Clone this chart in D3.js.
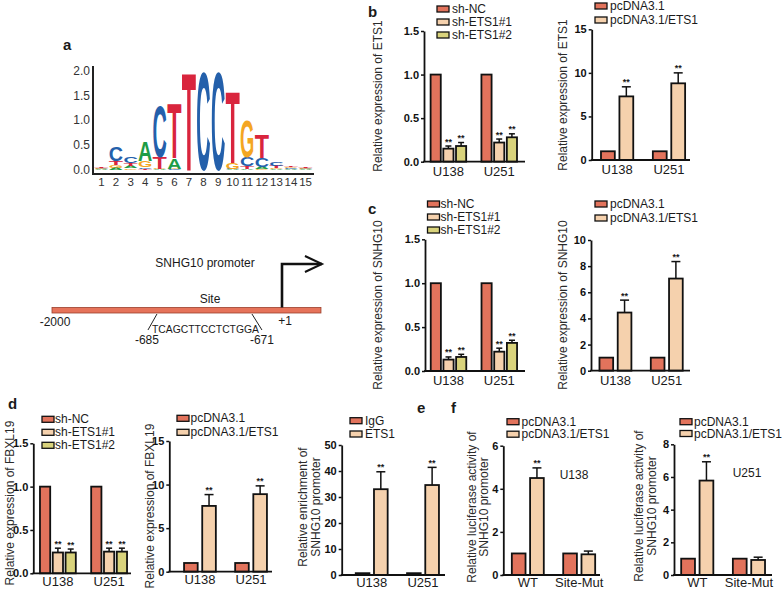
<!DOCTYPE html>
<html><head><meta charset="utf-8">
<script src="https://cdn.jsdelivr.net/npm/d3@7"></script>
<style>
body{margin:0;background:#fff}
svg{display:block}
text{font-family:"Liberation Sans",Arial,sans-serif;fill:#1a1a1a}
</style>
</head><body>
<svg id="fig" width="784" height="590"></svg>
<script>
// ---------------- DATA ----------------
// Panel a: sequence logo (bits per base at positions 1..15)
const logoPositions = [1,2,3,4,5,6,7,8,9,10,11,12,13,14,15];
const logoA = [0.01,0.04,0.04,0.40,0.01,0.21,0,0,0,0.01,0.02,0.04,0.02,0.01,0.01];
const logoC = [0.01,0.28,0.14,0.03,1.05,0.01,0,2.0,2.0,0.01,0.18,0.18,0.07,0.02,0.01];
const logoG = [0.01,0.05,0.03,0.13,0.01,0.01,0,0,0,0.12,0.75,0.02,0.02,0.02,0.01];
const logoT = [0.01,0.08,0.06,0.02,0.24,1.13,2.0,0,0,1.48,0.05,0.47,0.04,0.02,0.01];
const logoYTicks = [0,0.5,1,1.5,2];
const siteSequence = "TCAGCTTCCTCTGGA";

// Categories and series
const cellLines = ["U138","U251"];
const lucGroups = ["WT","Site-Mut"];
const shSeries = ["sh-NC","sh-ETS1#1","sh-ETS1#2"];
const oeSeries = ["pcDNA3.1","pcDNA3.1/ETS1"];
const chipSeries = ["IgG","ETS1"];

// b: ETS1 expression
const ets1ShMean = [[1,1],[0.15,0.22],[0.18,0.28]];
const ets1ShErr  = [[0,0],[0.03,0.04],[0.04,0.04]];
const ets1ShSig  = [["",""],["**","**"],["**","**"]];
const ets1OeMean = [[1,1],[7.3,8.8]];
const ets1OeErr  = [[0,0],[1.1,1.2]];
const ets1OeSig  = [["",""],["**","**"]];
// c: SNHG10 expression
const snhgShMean = [[1,1],[0.13,0.22],[0.16,0.32]];
const snhgShErr  = [[0,0],[0.03,0.04],[0.03,0.03]];
const snhgShSig  = [["",""],["**","**"],["**","**"]];
const snhgOeMean = [[1,1],[4.45,7.05]];
const snhgOeErr  = [[0,0],[0.95,1.3]];
const snhgOeSig  = [["",""],["**","**"]];
// d: FBXL19 expression
const fbxShMean = [[1,1],[0.24,0.25],[0.24,0.25]];
const fbxShErr  = [[0,0],[0.05,0.04],[0.04,0.04]];
const fbxShSig  = [["",""],["**","**"],["**","**"]];
const fbxOeMean = [[1,1],[7.55,8.9]];
const fbxOeErr  = [[0,0],[1.3,0.95]];
const fbxOeSig  = [["",""],["**","**"]];
// e: ChIP enrichment
const chipMean = [[0.7,0.7],[33,34.6]];
const chipErr  = [[0,0],[6.7,6.8]];
const chipSig  = [["",""],["**","**"]];
// f: luciferase
const lucU138Mean = [[1,1],[4.5,0.96]];
const lucU138Err  = [[0,0],[0.47,0.15]];
const lucU138Sig  = [["",""],["**",""]];
const lucU251Mean = [[1,1],[5.78,0.92]];
const lucU251Err  = [[0,0],[1.15,0.17]];
const lucU251Sig  = [["",""],["**",""]];

// tick values
const ticksRel = [0,0.5,1,1.5];
const ticks15 = [0,5,10,15];
const ticks10 = [0,2,4,6,8,10];
const ticks50 = [0,10,20,30,40,50];
const ticks6 = [0,2,4,6];
const ticks8 = [0,2,4,6,8];

// ---------------- STYLE ----------------
const RED = "#e2735c", PEACH = "#f5d1ad", OLIVE = "#d9d37c";
const baseColors = {A:"#1e9c45", C:"#2460ab", G:"#f4a622", T:"#d9253d"};
const shColors = [RED, PEACH, OLIVE];
const twoColors = [RED, PEACH];

const svg = d3.select("#fig");

// ---------------- PANEL LETTERS ----------------
const letters = [["a",63,50],["b",368,17],["c",368,214],["d",8,409],["e",417,413],["f",451,413]];
letters.forEach(([t,x,y]) => svg.append("text").attr("x",x).attr("y",y).attr("font-size",15)
  .attr("font-weight","bold").text(t));

// ---------------- PANEL a: LOGO ----------------
(function(){
  const g = svg.append("g");
  const lx = d3.scaleBand().domain(logoPositions).range([94,313]).padding(0.02);
  const ly = d3.scaleLinear().domain([0,2]).range([169.5,70.5]);
  const CAP = 71.6, ADV = 70;
  logoPositions.forEach((p,i) => {
    const stack = [["A",logoA[i]],["C",logoC[i]],["G",logoG[i]],["T",logoT[i]]]
      .filter(d => d[1] > 0).sort((a,b) => a[1]-b[1]);
    let cum = 0;
    stack.forEach(([b,h]) => {
      const yb = ly(cum), yt = ly(cum+h); cum += h;
      const w = lx.bandwidth();
      g.append("text").text(b)
        .attr("x",0).attr("y",0)
        .attr("font-size",100).attr("font-weight","bold")
        .attr("textLength",ADV).attr("lengthAdjust","spacingAndGlyphs")
        .style("fill",baseColors[b])
        .attr("transform",`translate(${lx(p)},${yb}) scale(${w/ADV},${(yb-yt)/CAP})`);
    });
  });
  const yAx = g.append("g").attr("transform","translate(93,0)")
    .call(d3.axisLeft(ly).tickValues(logoYTicks).tickFormat(d3.format(".1f")).tickSize(0).tickPadding(3));
  yAx.select(".domain").remove();
  yAx.selectAll("text").attr("font-size",12).style("fill","#333").attr("font-family","Liberation Sans, Arial");
  g.append("line").attr("x1",93).attr("x2",93).attr("y1",66).attr("y2",174).attr("stroke","#222").attr("stroke-width",2);
  g.append("line").attr("x1",92).attr("x2",314).attr("y1",174).attr("y2",174).attr("stroke","#222").attr("stroke-width",2);
  const xAx = g.append("g").attr("transform","translate(0,174)")
    .call(d3.axisBottom(lx).tickSize(0).tickPadding(4));
  xAx.select(".domain").remove();
  xAx.selectAll("text").attr("font-size",11.5).style("fill","#333").attr("font-family","Liberation Sans, Arial");
})();

// ---------------- PANEL a: PROMOTER ----------------
(function(){
  const g = svg.append("g");
  const gx = d3.scaleLinear().domain([-2000,1]).range([52,282]);
  const rightEnd = 340;
  g.append("rect").attr("x",gx(-2000)).attr("y",307.5).attr("width",gx(rightEnd)-gx(-2000)).attr("height",5.5)
    .attr("fill","#e6735a").attr("stroke","#9b3f2b").attr("stroke-width",0.8);
  g.append("path").attr("d",`M${gx(1)},307.5 V264 H${gx(rightEnd)+1}`).attr("fill","none").attr("stroke","#111").attr("stroke-width",2.6);
  g.append("path").attr("d",`M${gx(rightEnd)-16},256 L${gx(rightEnd)+1},264 L${gx(rightEnd)-16},272`).attr("fill","none").attr("stroke","#111").attr("stroke-width",2);
  const fs = 12;
  g.append("text").attr("x",205).attr("y",267).attr("text-anchor","middle").attr("font-size",fs).text("SNHG10 promoter");
  g.append("text").attr("x",210).attr("y",303).attr("text-anchor","middle").attr("font-size",fs).text("Site");
  g.append("text").attr("x",gx(-2000)+3).attr("y",325.5).attr("text-anchor","middle").attr("font-size",fs).text("-2000");
  g.append("text").attr("x",gx(1)+3).attr("y",325).attr("text-anchor","middle").attr("font-size",fs).text("+1");
  const sc = gx(-678);
  g.append("line").attr("x1",sc-47).attr("y1",314).attr("x2",sc-56).attr("y2",330).attr("stroke","#222").attr("stroke-width",1);
  g.append("line").attr("x1",sc+48).attr("y1",314).attr("x2",sc+58).attr("y2",330).attr("stroke","#222").attr("stroke-width",1);
  g.append("text").attr("x",sc-52).attr("y",333).attr("font-size",10.5).attr("textLength",107).attr("lengthAdjust","spacingAndGlyphs").text(siteSequence);
  g.append("text").attr("x",sc-57).attr("y",343.5).attr("text-anchor","middle").attr("font-size",fs).text("-685");
  g.append("text").attr("x",sc+58).attr("y",343.5).attr("text-anchor","middle").attr("font-size",fs).text("-671");
})();

// ---------------- BAR PANELS ----------------
function barPanel(c){
  const g = svg.append("g");
  const n = c.series.length;
  const x = d3.scaleBand().domain(c.groups).range([c.x0,c.x1]).paddingInner(0.2).paddingOuter(c.q);
  const ip = n === 3 ? 0.2 : 0.25;
  const xi = d3.scaleBand().domain(c.series).range([0,x.bandwidth()]).paddingInner(ip).paddingOuter(ip);
  const y = d3.scaleLinear().domain([0,c.ticks[c.ticks.length-1]]).range([c.y0,c.y1]);
  const capW = n === 3 ? 6 : 9;
  c.series.forEach((s,si) => {
    c.groups.forEach((grp,gi) => {
      const v = c.means[si][gi], e = c.errs[si][gi];
      const bx = x(grp) + xi(s), bw = xi.bandwidth(), cx = bx + bw/2;
      if (e > 0) {
        g.append("line").attr("x1",cx).attr("x2",cx).attr("y1",y(v)).attr("y2",y(v+e)).attr("stroke","#111").attr("stroke-width",1.5);
        g.append("line").attr("x1",cx-capW/2).attr("x2",cx+capW/2).attr("y1",y(v+e)).attr("y2",y(v+e)).attr("stroke","#111").attr("stroke-width",1.5);
      }
      g.append("rect").attr("x",bx).attr("y",y(v)).attr("width",bw).attr("height",c.y0-y(v))
        .attr("fill",c.colors[si]).attr("stroke","#111").attr("stroke-width",1.8);
      const sg = c.sig[si][gi];
      if (sg) g.append("text").attr("x",cx).attr("y",y(v+e)-1.5).attr("text-anchor","middle")
        .attr("font-size",9).attr("font-weight","bold").text(sg);
    });
  });
  const ya = g.append("g").attr("transform",`translate(${c.x0},0)`)
    .call(d3.axisLeft(y).tickValues(c.ticks).tickFormat(d3.format(c.fmt)).tickSize(3).tickSizeOuter(0).tickPadding(2));
  ya.select(".domain").attr("stroke","#111").attr("stroke-width",1.8);
  ya.selectAll(".tick line").attr("stroke","#111").attr("stroke-width",1.5);
  ya.selectAll("text").attr("font-size",11).attr("font-weight","bold").attr("font-family","Liberation Sans, Arial").style("fill","#111");
  g.append("line").attr("x1",c.x0-0.9).attr("x2",c.axisEnd).attr("y1",c.y0).attr("y2",c.y0).attr("stroke","#111").attr("stroke-width",1.8);
  const xa = g.append("g").attr("transform",`translate(0,${c.y0})`)
    .call(d3.axisBottom(x).tickSize(0).tickPadding(c.y0 > 500 ? 3 : 5));
  xa.select(".domain").remove();
  xa.selectAll("text").attr("font-size",13).attr("font-family","Liberation Sans, Arial").style("fill","#1a1a1a");
  c.ylabel.forEach((t,i) => {
    g.append("text").attr("transform",`translate(${c.ylx[i]},${c.yly}) rotate(-90)`)
      .attr("text-anchor","middle").attr("dominant-baseline","central").attr("font-size",12).style("fill","#2a2a2a").text(t);
  });
  c.series.forEach((s,si) => {
    const ly = c.leg.y + si*c.leg.dy;
    g.append("rect").attr("x",c.leg.x).attr("y",ly-3).attr("width",12).attr("height",6)
      .attr("fill",c.colors[si]).attr("stroke","#111").attr("stroke-width",1.3);
    g.append("text").attr("x",c.leg.x+12+c.leg.gap).attr("y",ly).attr("dominant-baseline","central")
      .attr("font-size",12).text(s);
  });
  if (c.note) g.append("text").attr("x",c.note[1]).attr("y",c.note[2]).attr("text-anchor","middle")
    .attr("dominant-baseline","central").attr("font-size",12).text(c.note[0]);
}

const panels = [
  {groups:cellLines, series:shSeries, colors:shColors, means:ets1ShMean, errs:ets1ShErr, sig:ets1ShSig,
   ticks:ticksRel, fmt:".1f", x0:424, x1:523.6, q:0.08, axisEnd:525, y0:161.7, y1:31,
   ylabel:["Relative expression of ETS1"], ylx:[377.5], yly:96, leg:{x:437, y:9, dy:13, gap:3}},
  {groups:cellLines, series:oeSeries, colors:twoColors, means:ets1OeMean, errs:ets1OeErr, sig:ets1OeSig,
   ticks:ticks15, fmt:"d", x0:591.7, x1:694.4, q:0.09, axisEnd:690, y0:160, y1:29.3,
   ylabel:["Relative expression of ETS1"], ylx:[563], yly:95, leg:{x:595, y:6, dy:14, gap:3}},
  {groups:cellLines, series:shSeries, colors:shColors, means:snhgShMean, errs:snhgShErr, sig:snhgShSig,
   ticks:ticksRel, fmt:".1f", x0:425, x1:522.8, q:0.063, axisEnd:525, y0:371, y1:239.3,
   ylabel:["Relative expression of SNHG10"], ylx:[377.5], yly:305, leg:{x:427.5, y:204, dy:13, gap:1}},
  {groups:cellLines, series:oeSeries, colors:twoColors, means:snhgOeMean, errs:snhgOeErr, sig:snhgOeSig,
   ticks:ticks10, fmt:"d", x0:591, x1:691.2, q:0.076, axisEnd:690, y0:370.7, y1:240,
   ylabel:["Relative expression of SNHG10"], ylx:[563], yly:305, leg:{x:595, y:204, dy:14, gap:3}},
  {groups:cellLines, series:shSeries, colors:shColors, means:fbxShMean, errs:fbxShErr, sig:fbxShSig,
   ticks:ticksRel, fmt:".1f", x0:33.3, x1:133.7, q:0.08, axisEnd:131, y0:573.3, y1:443.3,
   ylabel:["Relative expression of FBXL19"], ylx:[10], yly:503, leg:{x:42, y:419.3, dy:13, gap:1}},
  {groups:cellLines, series:oeSeries, colors:twoColors, means:fbxOeMean, errs:fbxOeErr, sig:fbxOeSig,
   ticks:ticks15, fmt:"d", x0:169.3, x1:281.7, q:0.2, axisEnd:272, y0:571.7, y1:441,
   ylabel:["Relative expression of FBXL19"], ylx:[150], yly:506, leg:{x:177, y:418.3, dy:14, gap:1.5}},
  {groups:cellLines, series:chipSeries, colors:twoColors, means:chipMean, errs:chipErr, sig:chipSig,
   ticks:ticks50, fmt:"d", x0:341.7, x1:453, q:0.185, axisEnd:445, y0:575, y1:445,
   ylabel:["Relative enrichment of","SNHG10 promoter"], ylx:[303,315.5], yly:507, leg:{x:350, y:420.7, dy:13.3, gap:3}},
  {groups:lucGroups, series:oeSeries, colors:twoColors, means:lucU138Mean, errs:lucU138Err, sig:lucU138Sig,
   ticks:ticks6, fmt:"d", x0:503.3, x1:603.7, q:0.077, axisEnd:600, y0:575, y1:445.7,
   ylabel:["Relative luciferase activity of","SNHG10 promoter"], ylx:[471.5,484], yly:507, leg:{x:507, y:421.7, dy:12.5, gap:2.5},
   note:["U138",574,475]},
  {groups:lucGroups, series:oeSeries, colors:twoColors, means:lucU251Mean, errs:lucU251Err, sig:lucU251Sig,
   ticks:ticks8, fmt:"d", x0:674, x1:772.2, q:0.05, axisEnd:772, y0:575, y1:444.3,
   ylabel:["Relative luciferase activity of","SNHG10 promoter"], ylx:[638.5,651.5], yly:506, leg:{x:680, y:421.7, dy:11.8, gap:2},
   note:["U251",747,473]}
];
panels.forEach(barPanel);
</script>
</body></html>
